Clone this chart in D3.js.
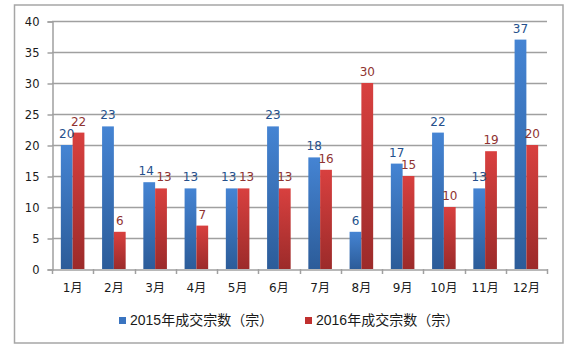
<!DOCTYPE html>
<html><head><meta charset="utf-8">
<script src="https://cdn.jsdelivr.net/npm/d3@7"></script>
<style>
html,body{margin:0;padding:0;background:#fff;}
svg{display:block;}
</style></head>
<body>
<svg id="chart" width="565" height="348"></svg>
<script>
const months = ["1月","2月","3月","4月","5月","6月","7月","8月","9月","10月","11月","12月"];
const series2015 = [20,23,14,13,13,23,18,6,17,22,13,37];
const series2016 = [22,6,13,7,13,13,16,30,15,10,19,20];
const seriesNames = ["2015年成交宗数（宗）","2016年成交宗数（宗）"];
const yTicks = [0,5,10,15,20,25,30,35,40];

const svg = d3.select("#chart");
const plot = {left:52, right:547, top:21, bottom:269};

// outer border
svg.append("rect").attr("x",14.5).attr("y",5).attr("width",548.5).attr("height",338)
  .attr("fill","#fff").attr("stroke","#a6a6a6").attr("stroke-width",1.5);

const defs = svg.append("defs");
const gradSpecs = [
  {id:"gBlue", top:"#4584d3", bottom:"#2c5c99"},
  {id:"gRed", top:"#d8403f", bottom:"#9c2b2a"}
];
gradSpecs.forEach(g=>{
  const lg = defs.append("linearGradient").attr("id",g.id).attr("x1",0).attr("y1",0).attr("x2",0).attr("y2",1);
  lg.append("stop").attr("offset","0%").attr("stop-color",g.top);
  lg.append("stop").attr("offset","100%").attr("stop-color",g.bottom);
});

const y = d3.scaleLinear().domain([0,40]).range([plot.bottom, plot.top]);
const x = d3.scaleBand().domain(months).range([plot.left, plot.right]).paddingInner(0).paddingOuter(0);
const x1 = d3.scaleBand().domain([0,1]).range([0, x.bandwidth()]).paddingOuter(0.75).paddingInner(0);

// gridlines
svg.append("g").selectAll("line").data(yTicks.filter(t=>t>0)).join("line")
  .attr("x1",plot.left).attr("x2",plot.right)
  .attr("y1",d=>Math.round(y(d))+0.5).attr("y2",d=>Math.round(y(d))+0.5)
  .attr("stroke","#a0a0a0").attr("stroke-width",1.5);

// y axis
const yAxis = d3.axisLeft(y).tickValues(yTicks).tickSize(5).tickPadding(8);
const gy = svg.append("g").attr("transform",`translate(${plot.left+0.5},0.5)`).call(yAxis);
gy.select(".domain").attr("stroke","#a0a0a0").attr("stroke-width",1.5);
gy.selectAll(".tick line").attr("stroke","#a0a0a0").attr("stroke-width",1.5);
gy.selectAll(".tick text").attr("font-family","'DejaVu Sans', Verdana, sans-serif").attr("font-size",11.5).attr("fill","#1a1a1a");

// bars
const data = months.map((m,i)=>({m, vals:[series2015[i], series2016[i]]}));
const fills = ["url(#gBlue)","url(#gRed)"];
const labelColors = ["#25508c","#8f3331"];
const groups = svg.append("g").selectAll("g").data(data).join("g")
  .attr("transform",d=>`translate(${x(d.m)},0)`);
groups.selectAll("rect").data(d=>d.vals.map((v,k)=>({v,k}))).join("rect")
  .attr("x",d=>x1(d.k)).attr("width",x1.bandwidth())
  .attr("y",d=>y(d.v)).attr("height",d=>y(0)-y(d.v))
  .attr("fill",d=>fills[d.k]);
// labels, nudged apart horizontally when the two labels of a month collide
groups.selectAll("text").data(d=>{
    const close = Math.abs(y(d.vals[0]) - y(d.vals[1])) < 12;
    return d.vals.map((v,k)=>({v,k,shift: close ? (k===0?-3:3) : 0}));
  }).join("text")
  .attr("x",d=>x1(d.k)+x1.bandwidth()/2+d.shift)
  .attr("y",d=>y(d.v)-7)
  .attr("text-anchor","middle")
  .attr("font-family","'DejaVu Sans', Verdana, sans-serif").attr("font-size",12)
  .attr("fill",d=>labelColors[d.k])
  .text(d=>d.v);

// x axis
const xAxis = d3.axisBottom(x).tickSize(0).tickPadding(14);
const gx = svg.append("g").attr("transform",`translate(0,${plot.bottom+0.5})`).call(xAxis);
gx.select(".domain").attr("stroke","#a0a0a0").attr("stroke-width",1.5);
gx.selectAll(".tick text").attr("font-family","'DejaVu Sans','Noto Sans CJK SC', sans-serif").attr("font-size",12).attr("fill","#1a1a1a");
// category boundary ticks
svg.append("g").selectAll("line").data(months.map(m=>x(m)).concat([plot.right])).join("line")
  .attr("x1",d=>Math.round(d)+0.5).attr("x2",d=>Math.round(d)+0.5)
  .attr("y1",plot.bottom).attr("y2",plot.bottom+5)
  .attr("stroke","#a0a0a0").attr("stroke-width",1.5);

// legend
const legendColors = ["#3a74c0","#c0302f"];
const legendX = [119,305];
const lg = svg.append("g").selectAll("g").data(seriesNames).join("g")
  .attr("transform",(d,i)=>`translate(${legendX[i]},317)`);
lg.append("rect").attr("width",7).attr("height",7).attr("fill",(d,i)=>legendColors[i]);
lg.append("text").attr("x",11).attr("y",7.5)
  .attr("font-family","'Liberation Sans','Noto Sans CJK SC', sans-serif").attr("font-size",14)
  .attr("fill","#1a1a1a").text(d=>d);
</script>
</body></html>
